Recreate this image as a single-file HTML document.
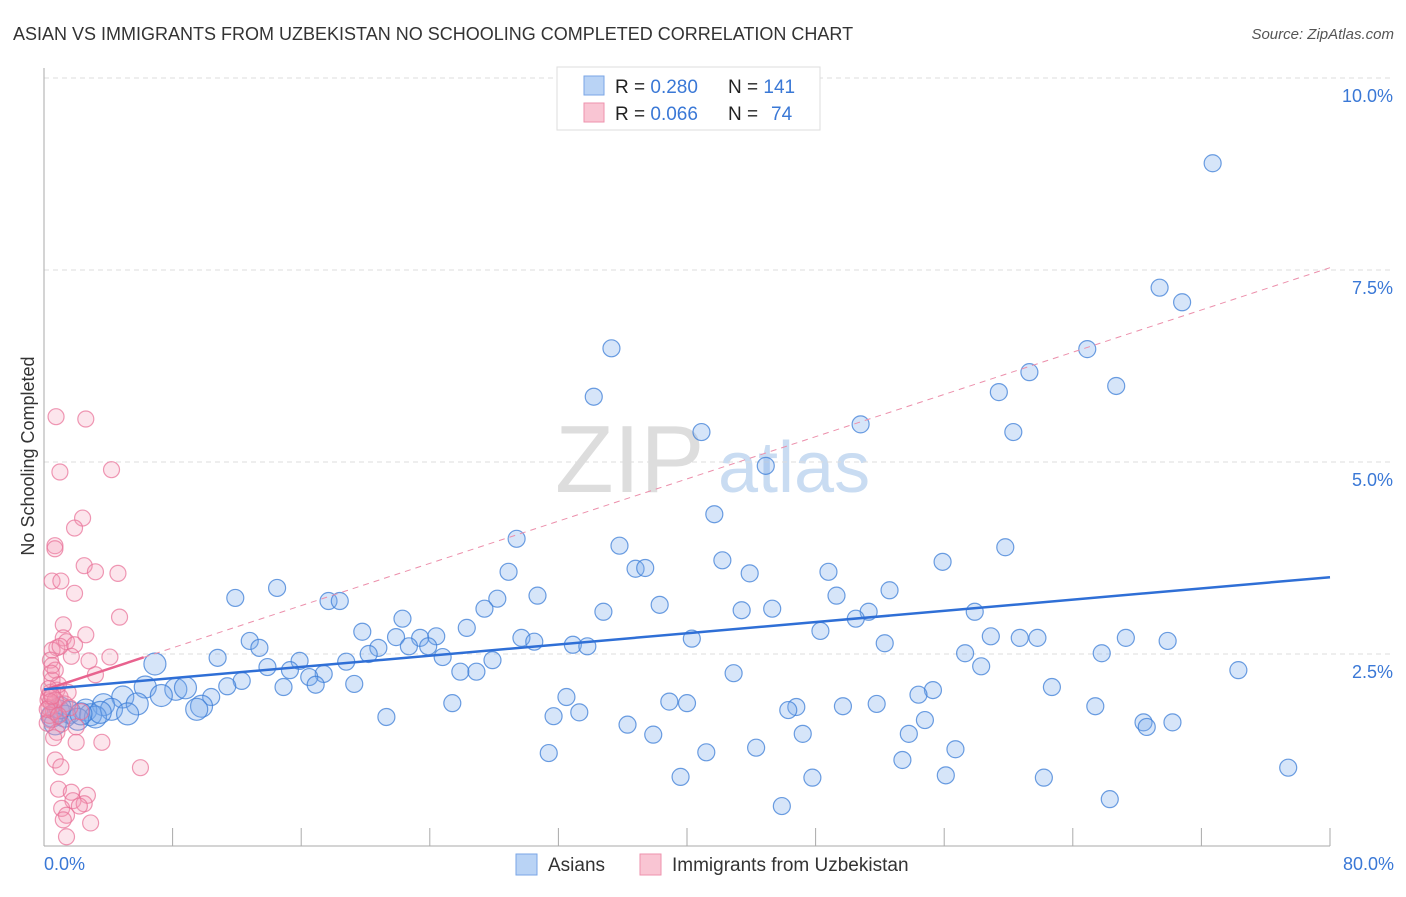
<!DOCTYPE html>
<html><head><meta charset="utf-8"><style>
body{margin:0;background:#fff;font-family:"Liberation Sans",sans-serif;}
svg text{font-family:"Liberation Sans",sans-serif;}
</style></head><body>
<svg id="chart" width="1406" height="892">
<text x="13" y="40" font-size="18" fill="#333">ASIAN VS IMMIGRANTS FROM UZBEKISTAN NO SCHOOLING COMPLETED CORRELATION CHART</text>
<text x="1394" y="39" font-size="15" fill="#555" font-style="italic" text-anchor="end">Source: ZipAtlas.com</text>
<g>
<text x="555" y="492" font-size="96" font-family="Liberation Serif" fill="#ddd">ZIP</text>
<text x="718" y="492" font-size="72" fill="#c9dcf2">atlas</text>
</g>
<g id="grid"></g><g id="axes"></g><g id="pts"></g><g id="lines"></g>
<text transform="translate(34,456) rotate(-90)" font-size="18" fill="#333" text-anchor="middle">No Schooling Completed</text>
<text x="44" y="870" font-size="18" fill="#3a78d6">0.0%</text>
<text x="1394" y="870" font-size="18" fill="#3a78d6" text-anchor="end">80.0%</text>
<g>
<rect x="557" y="67" width="263" height="63" fill="#fff" stroke="#ddd"/>
<rect x="584" y="76" width="20" height="19" fill="#b9d3f5" stroke="#7aa6e6"/>
<rect x="584" y="103" width="20" height="19" fill="#f9c5d3" stroke="#ee92ad"/>
<text x="615" y="93" font-size="19" fill="#222">R = <tspan fill="#3a78d6">0.280</tspan><tspan x="728">N = </tspan><tspan fill="#3a78d6">141</tspan></text>
<text x="615" y="120" font-size="19" fill="#222">R = <tspan fill="#3a78d6">0.066</tspan><tspan x="728">N = </tspan><tspan fill="#3a78d6" x="771">74</tspan></text>
</g>
<g>
<rect x="516" y="854" width="21" height="21" fill="#b9d3f5" stroke="#7aa6e6"/>
<text x="548" y="871" font-size="19" fill="#333">Asians</text>
<rect x="640" y="854" width="21" height="21" fill="#f9c5d3" stroke="#ee92ad"/>
<text x="672" y="871" font-size="19" fill="#333">Immigrants from Uzbekistan</text>
</g>
</svg>
<script>
const yTicks=[2.5,5.0,7.5,10.0];
const yTickLabels=["2.5%","5.0%","7.5%","10.0%"];
const xTicks=[0,8,16,24,32,40,48,56,64,72,80];
const blueX=[72.7,69.4,70.8,35.3,64.9,61.3,34.2,59.4,66.7,50.8,40.9,60.3,44.9,41.7,29.4,35.8,59.8,42.2,55.9,36.8,37.4,43.9,48.8,28.9,11.9,14.5,30.7,28.2,52.6,49.3,17.7,18.4,38.3,27.4,34.8,43.4,45.3,51.3,50.5,57.9,22.3,26.3,19.8,48.3,24.4,23.4,21.9,29.7,30.5,58.9,60.7,61.8,67.3,12.8,40.3,69.9,32.9,33.8,52.3,20.8,22.7,23.9,13.4,20.2,24.8,27.9,57.3,65.8,10.8,15.9,18.8,6.9,13.9,15.3,58.3,25.9,26.9,74.3,42.9,17.4,16.5,12.3,6.3,11.4,14.9,16.9,19.3,8.2,8.8,62.7,55.3,54.4,7.3,10.4,4.9,32.5,25.4,38.9,40.0,46.8,46.3,49.7,51.8,65.4,5.8,3.7,9.8,9.5,4.2,2.6,1.6,0.9,2.9,5.2,1.3,3.2,2.1,33.3,31.7,21.3,54.8,68.4,68.6,70.2,36.3,53.8,37.9,47.2,44.3,56.7,41.2,31.4,53.4,77.4,39.6,47.8,56.1,62.2,66.3,45.9,0.5,0.7,3.5,1.0,2.3];
const blueY=[8.89,7.27,7.08,6.48,6.47,6.17,5.85,5.91,5.99,5.49,5.39,5.39,4.95,4.32,4.00,3.91,3.89,3.72,3.70,3.61,3.62,3.55,3.57,3.57,3.23,3.36,3.26,3.22,3.33,3.26,3.19,3.19,3.14,3.09,3.05,3.07,3.09,3.05,2.96,3.05,2.96,2.84,2.79,2.80,2.73,2.71,2.72,2.71,2.66,2.73,2.71,2.71,2.71,2.67,2.70,2.67,2.62,2.60,2.64,2.58,2.60,2.60,2.58,2.50,2.46,2.42,2.51,2.51,2.45,2.41,2.40,2.37,2.33,2.29,2.34,2.27,2.27,2.29,2.25,2.24,2.20,2.15,2.07,2.08,2.07,2.10,2.11,2.04,2.06,2.07,2.03,1.97,1.96,1.94,1.94,1.94,1.86,1.88,1.86,1.81,1.77,1.82,1.85,1.82,1.85,1.84,1.82,1.78,1.78,1.77,1.74,1.76,1.71,1.72,1.69,1.68,1.65,1.74,1.69,1.68,1.64,1.61,1.55,1.61,1.58,1.46,1.45,1.46,1.28,1.26,1.22,1.21,1.12,1.02,0.90,0.89,0.92,0.89,0.61,0.52,1.69,1.59,1.74,1.80,1.72];
const pinkX=[0.75,2.6,0.99,4.2,2.4,1.9,0.68,0.68,2.5,3.2,4.6,0.5,1.05,1.9,4.7,1.2,2.6,1.2,0.8,1.4,1.9,0.5,0.4,2.8,4.1,0.7,0.5,3.2,0.8,1.0,0.6,0.4,1.1,2.0,0.8,3.6,6.0,0.6,2.0,0.7,1.05,0.9,1.7,2.7,1.8,2.5,2.2,1.1,1.4,1.2,2.9,1.4,0.25,0.4,0.3,0.35,1.7,0.5,1.5,0.3,0.6,1.3,0.9,2.3,0.2,0.45,1.0,0.3,0.7,1.6,0.4,0.2,0.9,0.5];
const pinkY=[5.59,5.56,4.87,4.90,4.27,4.14,3.91,3.87,3.65,3.57,3.55,3.45,3.45,3.29,2.98,2.88,2.75,2.71,2.58,2.66,2.62,2.55,2.42,2.41,2.46,2.29,2.16,2.23,2.03,1.94,1.84,1.64,1.59,1.55,1.48,1.35,1.02,1.41,1.35,1.12,1.03,0.74,0.70,0.66,0.59,0.55,0.52,0.49,0.40,0.34,0.30,0.12,1.90,2.00,1.80,1.70,2.47,2.35,2.00,1.95,1.75,1.85,2.10,1.75,1.60,2.25,2.60,2.05,1.90,1.80,1.88,1.78,1.70,1.95];
const blueLine=[2.04,3.50];
const pinkLine=[2.03,7.53];
const pinkSolidEnd=6.2;
const X=v=>44+v*1286/80, Y=v=>846-v*76.8;
const NS='http://www.w3.org/2000/svg';
function mk(p,t,a){const e=document.createElementNS(NS,t);for(const k in a)e.setAttribute(k,a[k]);document.getElementById(p).appendChild(e);return e;}
yTicks.forEach((t,i)=>{
 const g=mk('grid','line',{x1:44,x2:1394,y1:Y(t),y2:Y(t),stroke:'#ddd','stroke-dasharray':'5,4'});
 
 
 const l=mk('grid','text',{x:1393,y:Y(t)+24,'font-size':18,fill:'#3a78d6','text-anchor':'end'});
 l.textContent=yTickLabels[i];
 
 
});
const ya=mk('axes','line',{x1:44,x2:44,y1:68,y2:846,stroke:'#aaa'});


const xa=mk('axes','line',{x1:44,x2:1330,y1:846,y2:846,stroke:'#aaa'});


xTicks.forEach(t=>{const e=mk('axes','line',{x1:X(t),x2:X(t),y1:828,y2:846,stroke:'#aaa'});
 
 });
blueX.forEach((x,i)=>{const c=mk('pts','circle',{cx:X(x),cy:Y(blueY[i]),r:x<10?11:8.5,fill:'rgba(120,170,235,0.3)',stroke:'rgba(60,125,215,0.75)','stroke-width':1.2});
 
 });
pinkX.forEach((x,i)=>{const c=mk('pts','circle',{cx:X(x),cy:Y(pinkY[i]),r:8,fill:'rgba(245,150,180,0.25)',stroke:'rgba(232,110,150,0.7)','stroke-width':1.2});
 
 });
const pl=v=>pinkLine[0]+(pinkLine[1]-pinkLine[0])*v/80;
const d=mk('lines','line',{x1:X(pinkSolidEnd),y1:Y(pl(pinkSolidEnd)),x2:X(80),y2:Y(pinkLine[1]),stroke:'#ec8fab','stroke-dasharray':'6,5','stroke-width':1});


const ps=mk('lines','line',{x1:X(0),y1:Y(pinkLine[0]),x2:X(pinkSolidEnd),y2:Y(pl(pinkSolidEnd)),stroke:'#e8628e','stroke-width':2.5});


const bl=mk('lines','line',{x1:X(0),y1:Y(blueLine[0]),x2:X(80),y2:Y(blueLine[1]),stroke:'#2f6fd6','stroke-width':2.5});


</script>
</body></html>
